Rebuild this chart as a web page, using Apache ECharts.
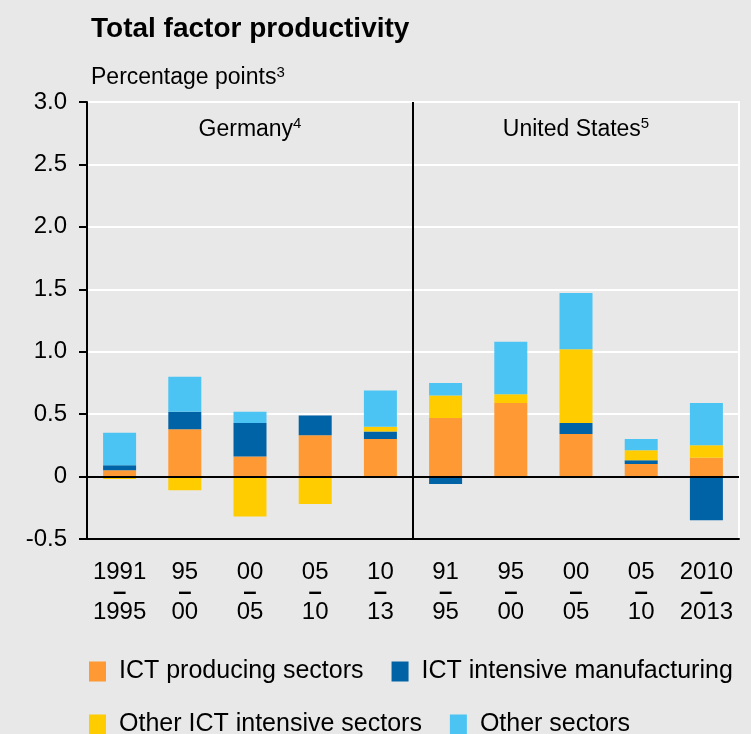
<!DOCTYPE html>
<html>
<head>
<meta charset="utf-8">
<script src="https://cdn.jsdelivr.net/npm/echarts@6/dist/echarts.min.js"></script>
<style>
  html, body { margin: 0; padding: 0; background: #e8e8e8; }
  #chart { width: 751px; height: 734px; }
</style>
</head>
<body>
<div id="chart"></div>
<script>
// one entry per bar: Germany periods then United States periods
var categories = ['DE 1991-1995', 'DE 1995-2000', 'DE 2000-2005', 'DE 2005-2010', 'DE 2010-2013',
                  'US 1991-1995', 'US 1995-2000', 'US 2000-2005', 'US 2005-2010', 'US 2010-2013'];
var periodStart = ['1991', '95', '00', '05', '10', '91', '95', '00', '05', '2010'];
var periodEnd   = ['1995', '00', '05', '10', '13', '95', '00', '05', '10', '2013'];
var yTicks = [-0.5, 0, 0.5, 1.0, 1.5, 2.0, 2.5, 3.0];

var ictProducing     = [0.05, 0.38, 0.16, 0.33, 0.30, 0.47, 0.59, 0.34, 0.10, 0.15];
var ictManufacturing = [0.04, 0.14, 0.27, 0.16, 0.06, -0.06, -0.01, 0.09, 0.03, -0.35];
var otherIct         = [-0.02, -0.11, -0.32, -0.22, 0.04, 0.18, 0.07, 0.59, 0.08, 0.10];
var otherSectors     = [0.26, 0.28, 0.09, 0, 0.29, 0.10, 0.42, 0.45, 0.09, 0.34];

var FONT = '"Liberation Sans", Arial, sans-serif';

var chart = echarts.init(document.getElementById('chart'));

function bar(name, data, color) {
    return {
        name: name,
        type: 'bar',
        stack: 'tfp',
        barWidth: 33,
        data: data,
        itemStyle: { color: color },
        emphasis: { disabled: true }
    };
}

var series = [
    bar('ICT producing sectors', ictProducing, '#ff9933'),
    bar('ICT intensive manufacturing', ictManufacturing, '#0063a6'),
    bar('Other ICT intensive sectors', otherIct, '#ffcc00'),
    bar('Other sectors', otherSectors, '#4bc4f3')
];
// zero line
series[0].markLine = {
    silent: true,
    symbol: 'none',
    label: { show: false },
    lineStyle: { color: '#000', width: 2, type: 'solid' },
    data: [{ yAxis: 0 }]
};
// divider between the two countries, on a hidden value axis counting bars
series.push({
    type: 'line',
    xAxisIndex: 1,
    data: [],
    silent: true,
    markLine: {
        silent: true,
        symbol: 'none',
        label: { show: false },
        lineStyle: { color: '#000', width: 2, type: 'solid' },
        data: [{ xAxis: 5 }]
    }
});

var rich = {
    a: { fontFamily: FONT, fontSize: 23, fontWeight: 'normal', color: '#000', lineHeight: 26 },
    s: { fontFamily: FONT, fontSize: 15, fontWeight: 'normal', color: '#000', verticalAlign: 'top', lineHeight: 15 }
};

chart.setOption({
    backgroundColor: '#e8e8e8',
    animation: false,
    textStyle: { fontFamily: FONT },
    title: [
        {
            text: 'Total factor productivity',
            left: 86, top: 10,
            textStyle: { fontFamily: FONT, fontSize: 28, fontWeight: 'bold', color: '#000' }
        },
        {
            text: '{a|Percentage points}{s|3}',
            left: 86, top: 60,
            textStyle: { fontWeight: 'normal', rich: rich }
        }
    ],
    legend: {
        left: 84, top: 654, width: 665,
        itemWidth: 17, itemHeight: 20, itemGap: 28,
        icon: 'rect',
        textStyle: { fontFamily: FONT, fontSize: 25, color: '#000', padding: [0, 0, 0, 8] },
        data: series.slice(0, 4).map(function (s) { return s.name; })
    },
    grid: {
        left: 87, right: 12, top: 102, bottom: 195,
        show: true, borderColor: '#fff', borderWidth: 2, backgroundColor: 'transparent'
    },
    xAxis: [{
        type: 'category',
        data: categories,
        axisLine: { onZero: false, lineStyle: { color: '#000', width: 2 } },
        axisTick: { interval: 0, length: 10, lineStyle: { color: '#000', width: 2 } },
        axisLabel: {
            interval: 0, margin: 23, fontSize: 24, lineHeight: 20, color: '#000', fontFamily: FONT,
            formatter: function (v, i) { return periodStart[i] + '\n{d|–}\n' + periodEnd[i]; },
            rich: {
                d: { fontFamily: FONT, fontSize: 24, fontWeight: 'bold', lineHeight: 20, color: '#000' }
            }
        },
        splitLine: { show: false }
    }, {
        type: 'value',
        min: 0, max: categories.length,
        show: false
    }],
    yAxis: {
        type: 'value',
        min: yTicks[0], max: yTicks[yTicks.length - 1], interval: 0.5,
        axisLine: { show: true, lineStyle: { color: '#000', width: 2 } },
        axisTick: { show: true, length: 8, lineStyle: { color: '#000', width: 2 } },
        axisLabel: {
            margin: 20, fontSize: 24, color: '#000', fontFamily: FONT,
            formatter: function (v) { return v === 0 ? '0' : v.toFixed(1); }
        },
        splitLine: { lineStyle: { color: '#fff', width: 2 } }
    },
    series: series
});

// panel headings centred over each country's five bars
var yHead = chart.convertToPixel({ yAxisIndex: 0 }, 2.78);
var xDe = (chart.convertToPixel({ xAxisIndex: 0 }, categories[0]) + chart.convertToPixel({ xAxisIndex: 0 }, categories[4])) / 2;
var xUs = (chart.convertToPixel({ xAxisIndex: 0 }, categories[5]) + chart.convertToPixel({ xAxisIndex: 0 }, categories[9])) / 2;
chart.setOption({
    graphic: [
        { type: 'text', x: xDe, y: yHead, style: { text: '{a|Germany}{s|4}', rich: rich, align: 'center', verticalAlign: 'middle' } },
        { type: 'text', x: xUs, y: yHead, style: { text: '{a|United States}{s|5}', rich: rich, align: 'center', verticalAlign: 'middle' } }
    ]
});
</script>
</body>
</html>
